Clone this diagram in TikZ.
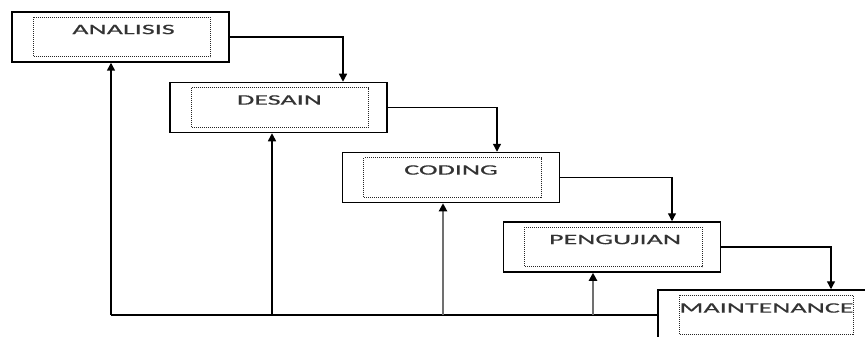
\documentclass[tikz,border=0pt]{standalone}
\usepackage{fontspec}
\newfontfamily\boxfont[FakeStretch=1.95,FakeBold=0.6]{Carlito}
\usetikzlibrary{arrows.meta,calc}
\definecolor{txt}{HTML}{333333}
\definecolor{gline}{HTML}{707070}
\begin{document}
\begin{tikzpicture}[x=1pt,y=-1pt,
  phasebox/.style={draw=black,line width=1.5pt,minimum width=217pt,minimum height=50pt,inner sep=0pt,fill=white},
  innerbox/.style={draw=black!85,line width=1pt,densely dotted},
  phasetext/.style={font=\boxfont\fontsize{14.4}{15}\selectfont,text=txt,inner sep=0pt},
  flow/.style={draw=black,line width=1.3pt,-{Triangle[width=8pt,length=8pt]}},
  back/.style={draw=black,line width=1.5pt,-{Triangle[width=8pt,length=8pt]}},
  backg/.style={draw=gline,line width=2.4pt,-{Triangle[width=8pt,length=8pt,color=black]}},
  baseline/.style={draw=black,line width=1.5pt}]
\useasboundingbox (0,0) rectangle (865,337);
% boxes
\node[phasebox] (A) at (120.5,37) {};
\node[phasebox] (D) at (278.5,107.5) {};
\node[phasebox] (C) at (451,177.5) {};
\node[phasebox] (P) at (612,247) {};
\node[phasebox] (M) at (766.5,315) {};
% inner dotted frames
\foreach \b/\r in {A/19,D/19,C/19,P/19,M/22}{
  \draw[innerbox] ($(\b.north west)+(22,6)$) rectangle ($(\b.south east)+(-\r,-6)$);
}
% texts
\node[phasetext] (tA) at ($(A.center)+(3,-7.5)$) {ANALISIS};
\node[phasetext] (tD) at ($(D.center)+(1,-7.5)$) {DESAIN};
\node[phasetext] (tC) at ($(C.center)+(0,-7.5)$) {CODING};
\node[phasetext] (tP) at ($(P.center)+(3,-7.5)$) {PENGUJIAN};
\node[phasetext] (tM) at ($(M.center)+(0,-7)$) {MAINTENANCE};
% forward flow
\coordinate (fA) at (343,37);
\coordinate (fD) at (497,107.5);
\coordinate (fC) at (672,177.5);
\coordinate (fP) at (831,247);
\draw[flow] (A.east) -- (fA) -- (fA |- D.north);
\draw[flow] (D.east) -- (fD) -- (fD |- C.north);
\draw[flow] (C.east) -- (fC) -- (fC |- P.north);
\draw[flow] (P.east) -- (fP) -- (fP |- M.north);
% feedback
\coordinate (b0) at (111,315);
\coordinate (b1) at (272,315);
\coordinate (b2) at (443,315);
\coordinate (b3) at (593,315);
\draw[baseline] (M.west) -- (b0);
\draw[back] (b0) -- (b0 |- A.south);
\draw[back] (b1) -- (b1 |- D.south);
\draw[backg] (b2) -- (b2 |- C.south);
\draw[backg] (b3) -- (b3 |- P.south);
\end{tikzpicture}
\end{document}
